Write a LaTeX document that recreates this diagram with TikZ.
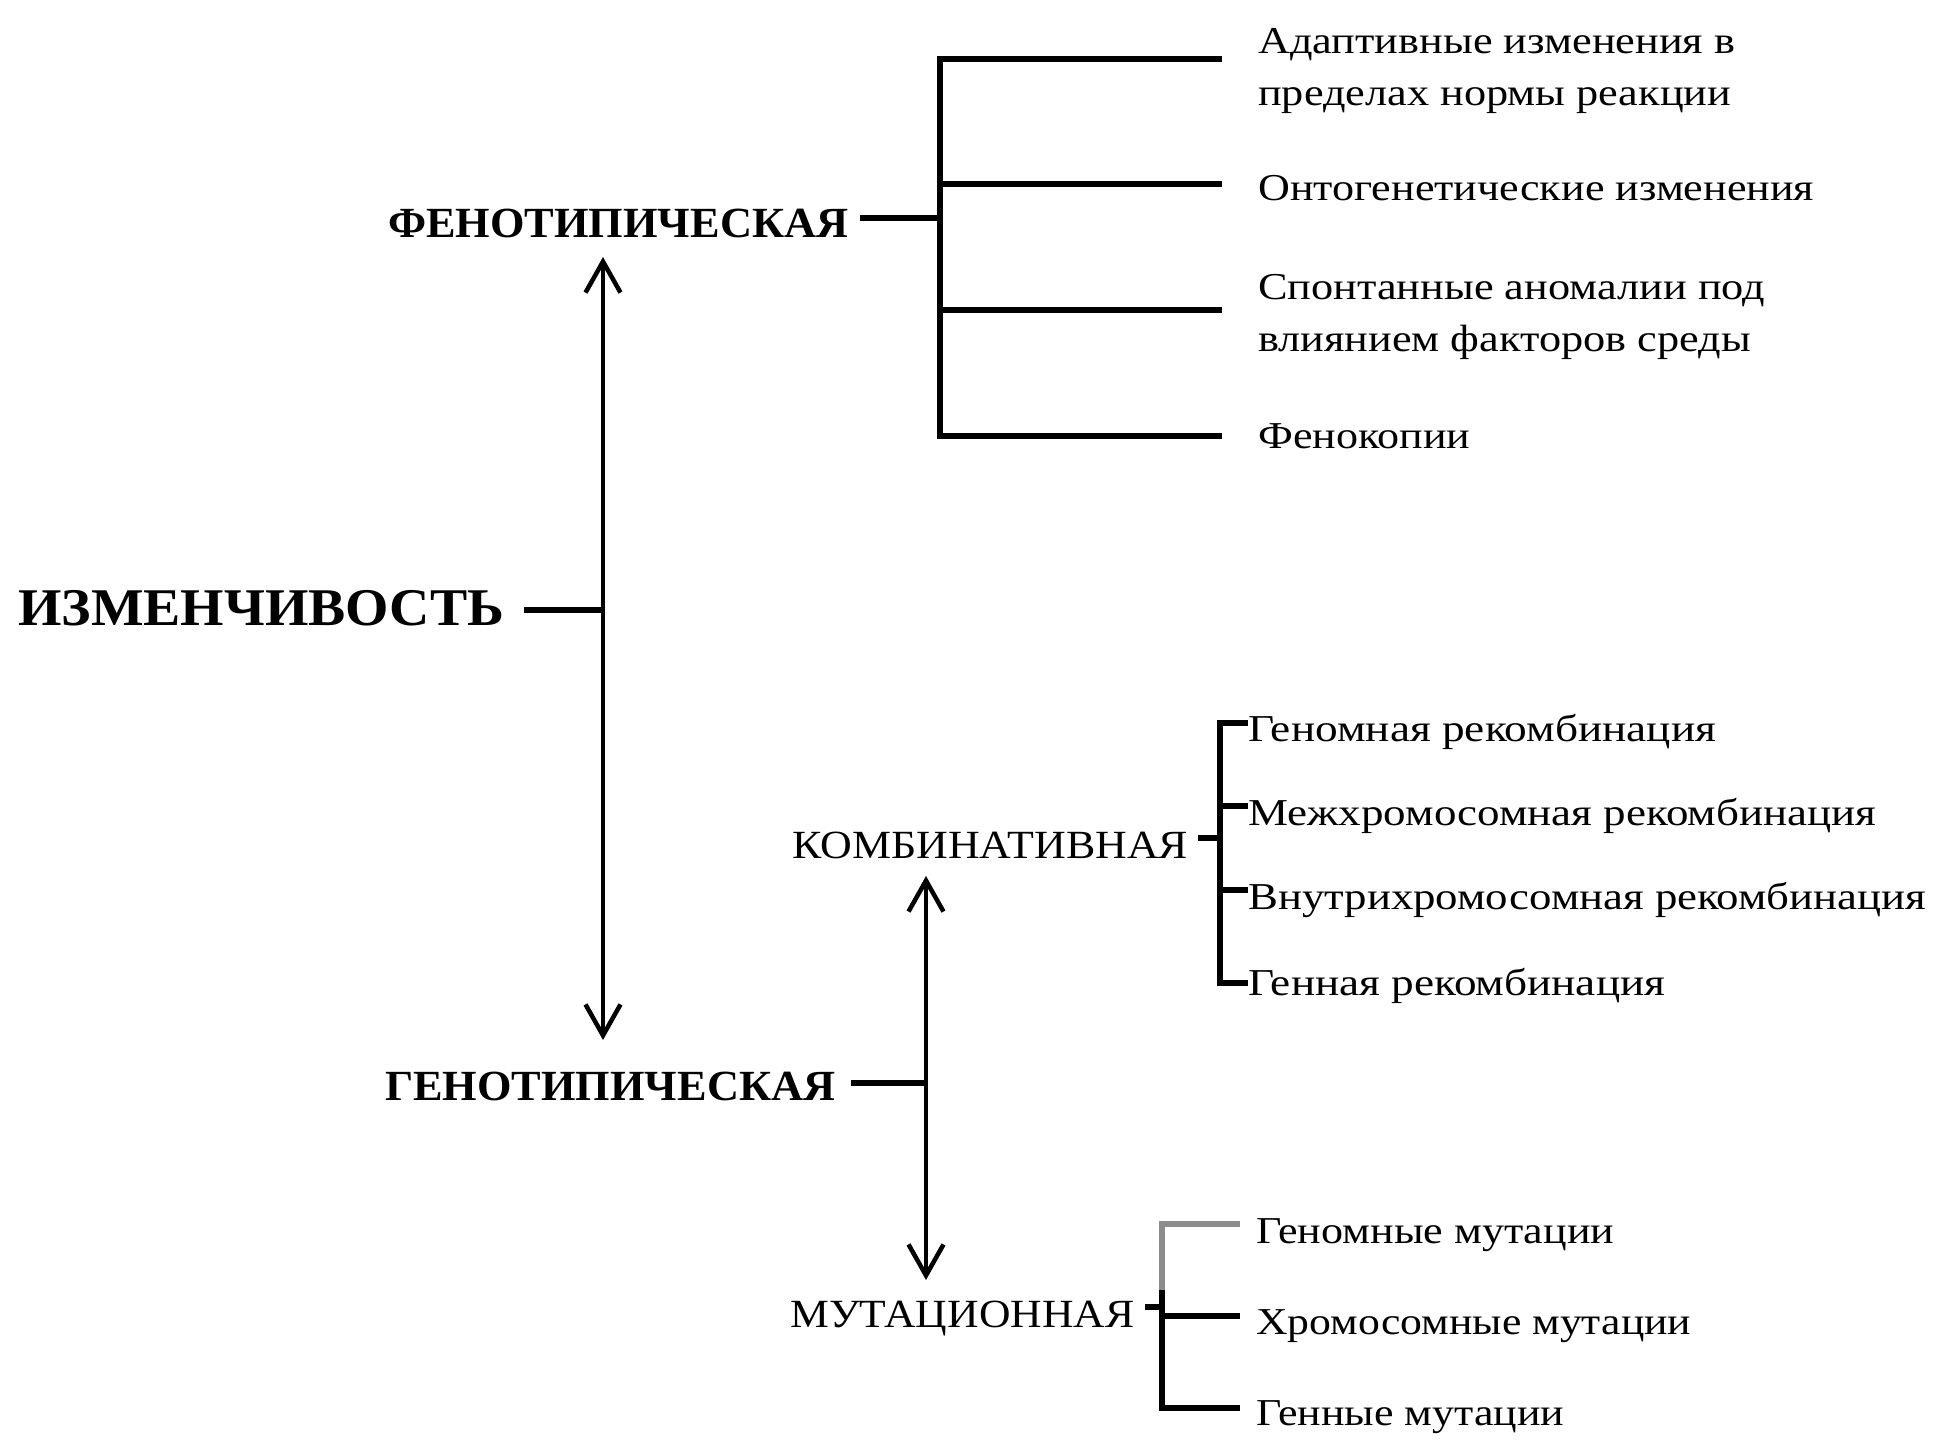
\documentclass[tikz,border=0pt]{standalone}
\usepackage{fontspec}
\setmainfont{Liberation Serif}
\usetikzlibrary{arrows.meta}
\newcommand\fitw[2]{\resizebox{#1}{\height}{#2}}
\begin{document}
\begin{tikzpicture}[x=1pt,y=-1pt,
  txt/.style={anchor=base west,inner sep=0pt,font=\fontsize{38}{52}\selectfont},
  lbl/.style={anchor=base west,inner sep=0pt,font=\fontsize{40}{48}\selectfont},
  head/.style={anchor=base west,inner sep=0pt,font=\bfseries\fontsize{43}{50}\selectfont},
  br/.style={line width=5.5pt,line join=miter,line cap=butt},
  arr/.style={line width=4.5pt,{Straight Barb[length=31pt,width=35pt]}-{Straight Barb[length=31pt,width=35pt]}}]
\fill[white] (0,0) rectangle (1946,1451);
\useasboundingbox (0,0) rectangle (1946,1451);

% labels
\node[head,font=\bfseries\fontsize{53}{58}\selectfont] (izm) at (18,625) {\fitw{486pt}{ИЗМЕНЧИВОСТЬ}};
\node[head] (feno) at (388,237) {\fitw{460pt}{ФЕНОТИПИЧЕСКАЯ}};
\node[head] (geno) at (385,1100) {\fitw{450pt}{ГЕНОТИПИЧЕСКАЯ}};
\node[lbl] (komb) at (792,858) {\fitw{396pt}{КОМБИНАТИВНАЯ}};
\node[lbl] (mut) at (790,1327) {\fitw{344pt}{МУТАЦИОННАЯ}};

% phenotypic leaves
\node[txt] (adapt) at (1258,53) {\fitw{477pt}{\begin{tabular}[t]{@{}l@{}}Адаптивные изменения в\\пределах нормы реакции\end{tabular}}};
\node[txt] (onto) at (1258,200) {\fitw{556pt}{Онтогенетические изменения}};
\node[txt] (spont) at (1258,299) {\fitw{507pt}{\begin{tabular}[t]{@{}l@{}}Спонтанные аномалии под\\влиянием факторов среды\end{tabular}}};
\node[txt] (fenok) at (1258,448) {\fitw{212pt}{Фенокопии}};

% combinative leaves
\node[txt] (k1) at (1248,741) {\fitw{468pt}{Геномная рекомбинация}};
\node[txt] (k2) at (1248,825) {\fitw{628pt}{Межхромосомная рекомбинация}};
\node[txt] (k3) at (1248,909) {\fitw{678pt}{Внутрихромосомная рекомбинация}};
\node[txt] (k4) at (1248,995) {\fitw{417pt}{Генная рекомбинация}};

% mutation leaves
\node[txt] (m1) at (1256,1243) {\fitw{358pt}{Геномные мутации}};
\node[txt] (m2) at (1256,1334) {\fitw{435pt}{Хромосомные мутации}};
\node[txt] (m3) at (1256,1425) {\fitw{308pt}{Генные мутации}};

% coordinates
\coordinate (izs) at (524,610);
\coordinate (izj) at (603,610);
\coordinate (a1t) at (603,257);
\coordinate (a1b) at (603,1040);
\coordinate (fs) at (860,218);
\coordinate (fj) at (940,218);
\coordinate (f1c) at (940,59);  \coordinate (f1) at (1222,59);
\coordinate (f2c) at (940,184); \coordinate (f2) at (1222,184);
\coordinate (f3c) at (940,310); \coordinate (f3) at (1222,310);
\coordinate (f4c) at (940,436); \coordinate (f4) at (1222,436);
\coordinate (gs) at (851,1083);
\coordinate (gj) at (926,1083);
\coordinate (a2t) at (926,876);
\coordinate (a2b) at (926,1280);
\coordinate (ks) at (1198,838);
\coordinate (kj) at (1220,838);
\coordinate (k1c) at (1220,723); \coordinate (k1e) at (1248,723);
\coordinate (k2c) at (1220,806); \coordinate (k2e) at (1248,806);
\coordinate (k3c) at (1220,890); \coordinate (k3e) at (1248,890);
\coordinate (k4c) at (1220,983); \coordinate (k4e) at (1248,983);
\coordinate (ms) at (1145,1307);
\coordinate (mj) at (1162,1307);
\coordinate (mg) at (1162,1290);
\coordinate (m1c) at (1162,1224); \coordinate (m1e) at (1240,1224);
\coordinate (m2c) at (1162,1316); \coordinate (m2e) at (1240,1316);
\coordinate (m3c) at (1162,1408); \coordinate (m3e) at (1240,1408);

% connectors
\draw[br] (izs) -- (izj);
\draw[arr] (a1t) -- (a1b);
\draw[br] (fs) -- (fj);
\draw[br] (f1) -- (f1c) -- (f4c) -- (f4);
\draw[br] (f2c) -- (f2);
\draw[br] (f3c) -- (f3);
\draw[br] (gs) -- (gj);
\draw[arr] (a2t) -- (a2b);
\draw[br] (ks) -- (kj);
\draw[br,line width=6pt] (k1e) -- (k1c) -- (k4c) -- (k4e);
\draw[br,line width=6pt] (k2c) -- (k2e);
\draw[br,line width=6pt] (k3c) -- (k3e);
\draw[br] (ms) -- (mj);
\draw[br,black!45] (m1e) -- (m1c) -- (mg);
\draw[br] (mg) -- (m3c) -- (m3e);
\draw[br] (m2c) -- (m2e);
\end{tikzpicture}
\end{document}
